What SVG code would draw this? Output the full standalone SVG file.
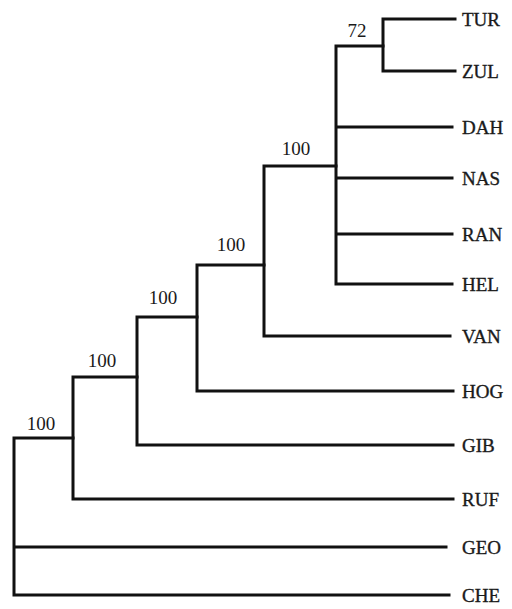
<svg xmlns="http://www.w3.org/2000/svg" width="512" height="609" viewBox="0 0 512 609">
<style>
.e{fill:none;stroke:#111;stroke-width:3;stroke-linecap:square;stroke-linejoin:miter}
.t{font-family:"Liberation Serif","Times New Roman",serif;font-size:19px;fill:#1a1a1a;stroke:#1a1a1a;stroke-width:0.35}
.b{font-family:"Liberation Serif","Times New Roman",serif;font-size:19px;fill:#1a1a1a;text-anchor:middle}
</style>
<rect width="512" height="609" fill="#fff"/>
<g id="connectors">
<path class="e" d="M73,438 H14 V595 H449 M14,547 H446"/>
<path class="e" d="M137,377 H73 V499 H453"/>
<path class="e" d="M197,317 H137 V445 H453"/>
<path class="e" d="M264,265 H197 V391 H453"/>
<path class="e" d="M336,166 H264 V336 H450"/>
<path class="e" d="M383,46 H336 V284 H452 M336,127 H452 M336,178 H452 M336,234 H452"/>
<path class="e" d="M455,19 H383 V71 H455"/>
</g>
<g id="n-root"><text class="b" x="41" y="430">100</text></g>
<g id="n-a"><text class="b" x="102" y="367">100</text></g>
<g id="n-b"><text class="b" x="163" y="304">100</text></g>
<g id="n-c"><text class="b" x="231" y="251">100</text></g>
<g id="n-d"><text class="b" x="296" y="155">100</text></g>
<g id="n-f"><text class="b" x="357" y="37">72</text></g>
<g id="tip-TUR"><text class="t" x="462" y="26">TUR</text></g>
<g id="tip-ZUL"><text class="t" x="462" y="78">ZUL</text></g>
<g id="tip-DAH"><text class="t" x="462" y="134">DAH</text></g>
<g id="tip-NAS"><text class="t" x="462" y="185">NAS</text></g>
<g id="tip-RAN"><text class="t" x="462" y="241">RAN</text></g>
<g id="tip-HEL"><text class="t" x="462" y="291">HEL</text></g>
<g id="tip-VAN"><text class="t" x="462" y="343">VAN</text></g>
<g id="tip-HOG"><text class="t" x="462" y="398">HOG</text></g>
<g id="tip-GIB"><text class="t" x="462" y="452">GIB</text></g>
<g id="tip-RUF"><text class="t" x="462" y="506">RUF</text></g>
<g id="tip-GEO"><text class="t" x="462" y="554">GEO</text></g>
<g id="tip-CHE"><text class="t" x="462" y="602">CHE</text></g>
</svg>
